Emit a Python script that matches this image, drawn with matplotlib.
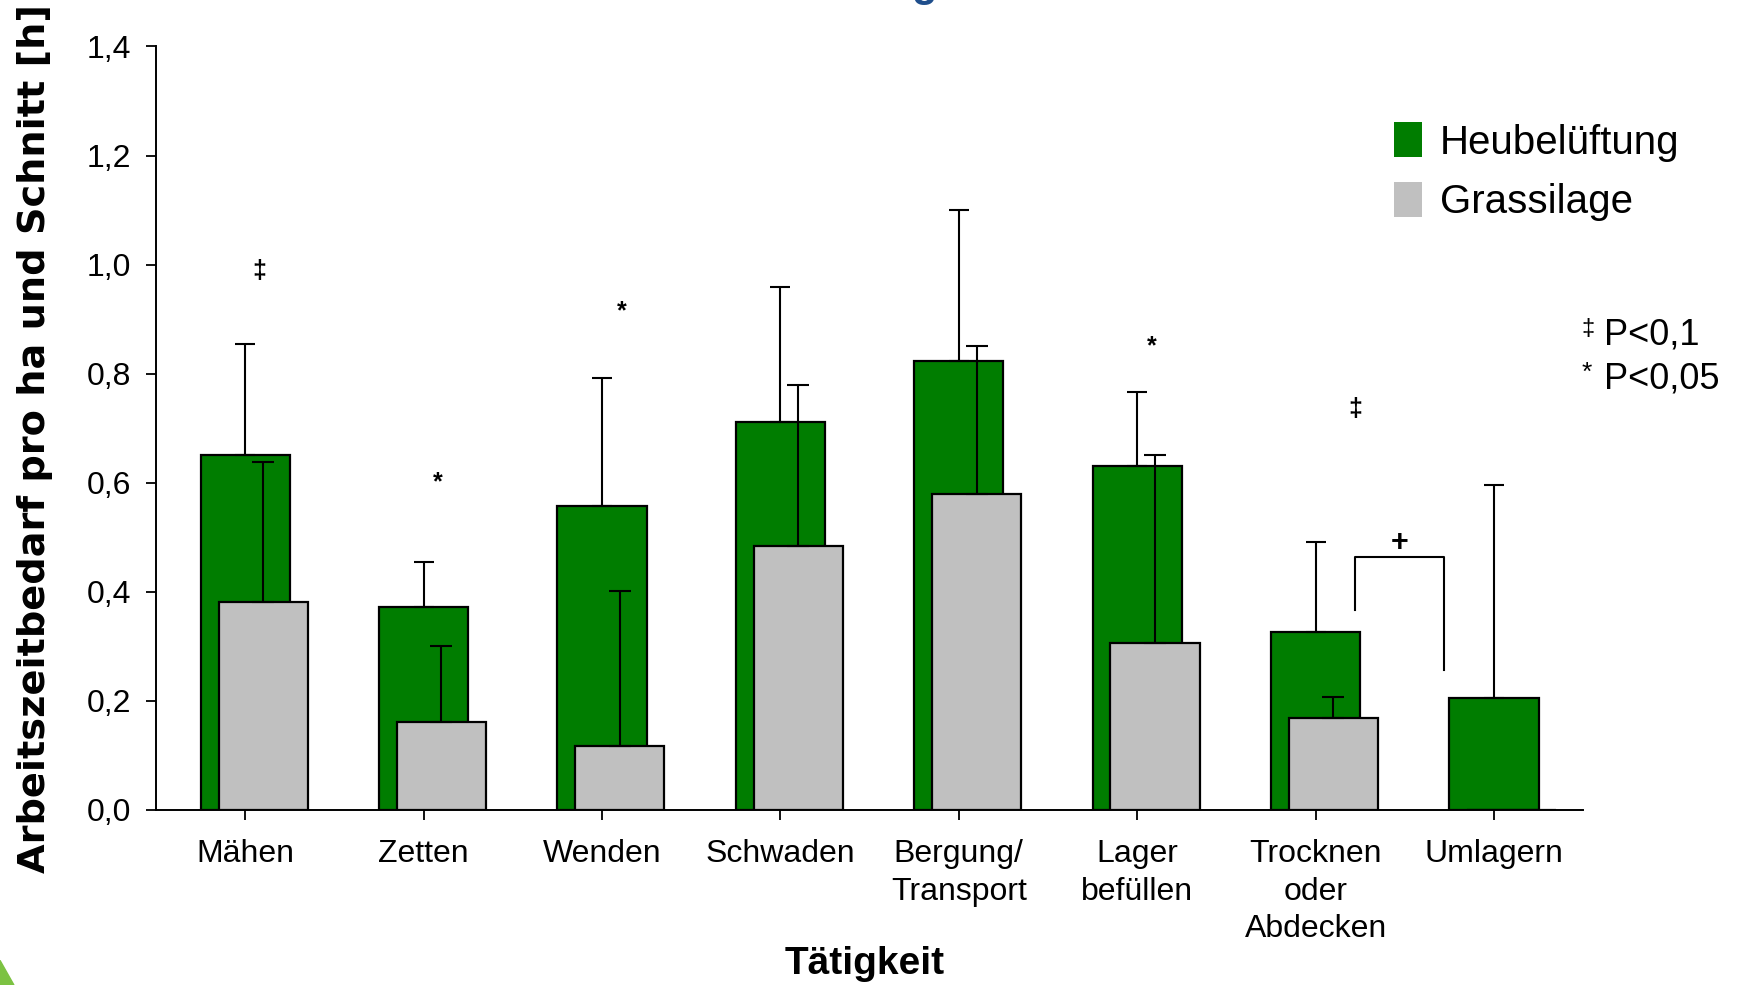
import matplotlib
matplotlib.use("Agg")
import matplotlib.pyplot as plt
import matplotlib.patches as patches
import numpy as np

plt.rcParams['font.family'] = ['Liberation Sans', 'DejaVu Sans']

# Arbeitszeitbedarf je Tätigkeit (Mittelwert + SD), Heubelüftung vs. Grassilage
taetigkeiten = ['Mähen', 'Zetten', 'Wenden', 'Schwaden', 'Bergung/\nTransport',
                'Lager\nbefüllen', 'Trocknen\noder\nAbdecken', 'Umlagern']
heu = [0.650, 0.372, 0.557, 0.711, 0.823, 0.630, 0.327, 0.205]
heu_sd = [0.204, 0.083, 0.236, 0.248, 0.277, 0.136, 0.165, 0.391]
gras = [0.382, 0.161, 0.118, 0.484, 0.579, 0.307, 0.169, 0.0]
gras_sd = [0.256, 0.140, 0.284, 0.296, 0.271, 0.343, 0.038, 0.0]

# Signifikanzzeichen: (Symbol, x, y)
sig_marks = [('‡', 0.58, 0.988), ('*', 1.58, 0.60), ('*', 2.61, 0.915),
             ('*', 5.58, 0.85), ('‡', 6.72, 0.736)]
# Klammer zwischen Trocknen und Umlagern
bracket_x = [6.72, 7.22]
bracket_y = [0.366, 0.463, 0.256]

yticks = [0.0, 0.2, 0.4, 0.6, 0.8, 1.0, 1.2, 1.4]

GREEN = '#007d00'
GRAY = '#c0c0c0'

fig = plt.figure(figsize=(17.38, 9.85), dpi=100)
ax = fig.add_axes([0.0898, 0.1777, 0.8211, 0.7751])

x = np.arange(len(taetigkeiten)) + 0.5
off = 0.1
w = 0.5

ax.bar(x, heu, width=w, color=GREEN, edgecolor='black', linewidth=1.6, zorder=2,
       label='Heubelüftung')
ax.errorbar(x, heu, yerr=[np.zeros(len(heu)), heu_sd], fmt='none', ecolor='black',
            elinewidth=1.5, capsize=7.5, capthick=1.5, zorder=3)

has_gras = np.array(gras) > 0
ax.bar(x + off, gras, width=w, color=GRAY, edgecolor='black', linewidth=1.6, zorder=4,
       label='Grassilage')
ax.errorbar((x + off)[has_gras], np.array(gras)[has_gras],
            yerr=[np.zeros(has_gras.sum()), np.array(gras_sd)[has_gras]],
            fmt='none', ecolor='black', elinewidth=1.5, capsize=8, capthick=1.5, zorder=5)

for sym, sx, sy in sig_marks:
    ax.text(sx, sy, sym, ha='center', va='center', fontsize=18, fontweight='bold')

ax.plot([bracket_x[0], bracket_x[0], bracket_x[1], bracket_x[1]],
        [bracket_y[0], bracket_y[1], bracket_y[1], bracket_y[2]],
        color='black', linewidth=1.5)
ax.text(np.mean(bracket_x), bracket_y[1] + 0.027, '+', ha='center', va='center',
        fontsize=22, fontweight='bold')

ax.set_xlim(0, 8)
ax.set_ylim(0, 1.4)
ax.set_yticks(yticks)
ax.set_yticklabels([f'{t:.1f}'.replace('.', ',') for t in yticks])
ax.set_xticks(x)
ax.set_xticklabels(taetigkeiten, linespacing=1.33)
ax.tick_params(axis='both', labelsize=23, length=7, width=1.3, direction='out')
ax.tick_params(axis='x', pad=14)
ax.tick_params(axis='y', pad=11)
for s in ['top', 'right']:
    ax.spines[s].set_visible(False)
for s in ['left', 'bottom']:
    ax.spines[s].set_linewidth(1.4)

fig.text(0.4977, 0.0213, 'Tätigkeit', fontsize=28, fontweight='bold',
         ha='center', va='center')
fig.text(0.020, 0.555, 'Arbeitszeitbedarf pro ha und Schnitt [h]', rotation=90,
         ha='center', va='center', fontsize=27.5, fontweight='heavy', family='DejaVu Sans')

leg = ax.legend(loc='upper left', bbox_to_anchor=(0.842, 0.948), frameon=False,
                fontsize=29, handlelength=0.7, handleheight=0.95,
                handletextpad=0.45, labelspacing=0.5)
for h in leg.legend_handles:
    h.set_edgecolor('none')

fig.text(0.910, 0.666, '‡', fontsize=17, ha='left', va='center')
fig.text(0.923, 0.660, 'P<0,1', fontsize=26, ha='left', va='center')
fig.text(0.910, 0.621, '*', fontsize=19, ha='left', va='center')
fig.text(0.923, 0.615, 'P<0,05', fontsize=26, ha='left', va='center')

# Titelrest am oberen Rand und grüner Eckbogen
fig.text(0.5316, 1.004, 'g', fontsize=30, fontweight='bold', color='#1f4e8c',
         ha='center', va='baseline')
fig.patches.append(patches.Polygon([[0, 0], [0.008, 0], [0, 0.025]], closed=True,
                                   transform=fig.transFigure, color='#7cc242'))

fig.savefig('out.png', dpi=100)
